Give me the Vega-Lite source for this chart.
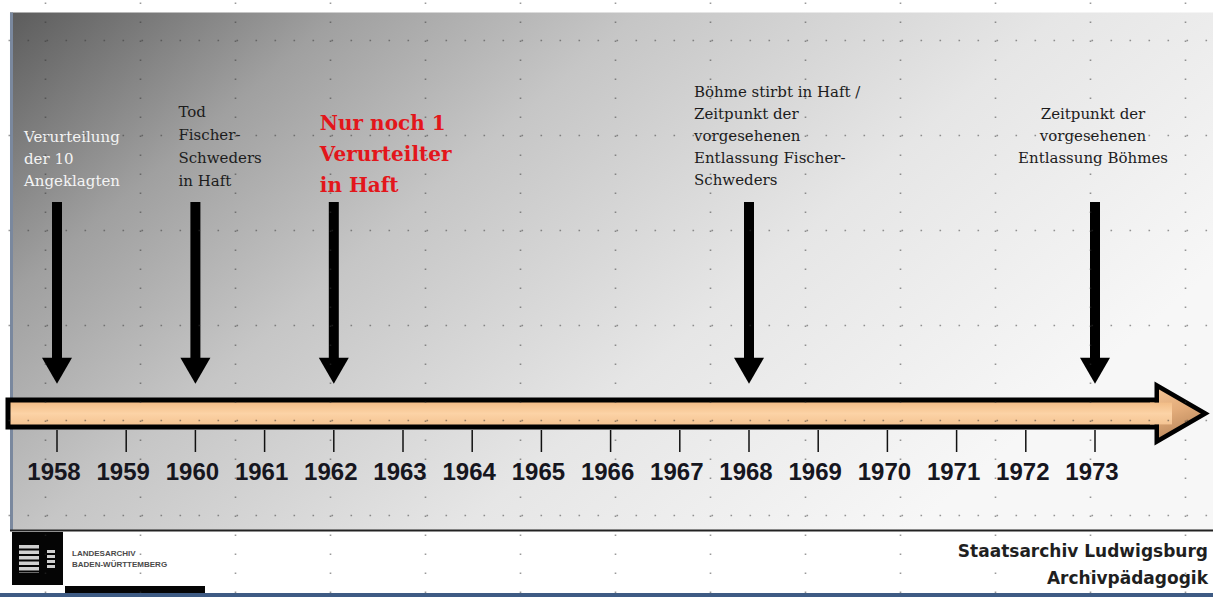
{
"$schema":"https://vega.github.io/schema/vega-lite/v6.json",
"width":1213,"height":597,"autosize":"none","padding":0,"background":"#ffffff",
"config":{"view":{"stroke":null},"axis":{"labels":false,"ticks":false,"domain":false,"grid":true,"gridColor":"#333333","gridOpacity":0.5,"gridWidth":1.6,"gridDash":[1.6,17.4]}},
"datasets":{
"years":[{"year":1958},{"year":1959},{"year":1960},{"year":1961},{"year":1962},{"year":1963},{"year":1964},{"year":1965},{"year":1966},{"year":1967},{"year":1968},{"year":1969},{"year":1970},{"year":1971},{"year":1972},{"year":1973}],
"events":[
{"year":1958,"label":"Verurteilung\nder 10\nAngeklagten"},
{"year":1960,"label":"Tod\nFischer-\nSchweders\nin Haft"},
{"year":1962,"label":"Nur noch 1\nVerurteilter\nin Haft"},
{"year":1968,"label":"Böhme stirbt in Haft /\nZeitpunkt der\nvorgesehenen\nEntlassung Fischer-\nSchweders"},
{"year":1973,"label":"Zeitpunkt der\nvorgesehenen\nEntlassung Böhmes"}
],
"one":[{}]
},
"layer":[
{"data":{"name":"one"},"mark":{"type":"rect","fill":{"gradient":"linear","x1":0,"y1":0,"x2":1,"y2":0.5,"stops":[{"offset":0,"color":"#5c5c5c"},{"offset":0.22,"color":"#a0a0a0"},{"offset":0.42,"color":"#c6c6c6"},{"offset":0.7,"color":"#e6e6e6"},{"offset":1,"color":"#f7f7f7"}]}},
"encoding":{
"x":{"datum":1957.3208,"type":"quantitative","scale":{"domain":[1957.1763,1974.7052],"nice":false,"zero":false},"axis":{"orient":"top","title":null,"zindex":1,"values":[1957.827,1959.199,1960.572,1961.945,1963.318,1964.691,1966.064,1967.436,1968.809,1970.182,1971.555,1972.928,1974.301],"gridDashOffset":-2}},
"x2":{"datum":1974.7052},
"y":{"datum":12.5,"type":"quantitative","scale":{"domain":[0,597],"reverse":true,"nice":false,"zero":false},"axis":{"orient":"left","title":null,"zindex":1,"values":[40,135,230,325,420,515],"gridDashOffset":-8}},
"y2":{"datum":530}}},
{"data":{"name":"one"},"mark":{"type":"rect","fill":"#7a889e"},
"encoding":{"x":{"datum":1957.3208,"type":"quantitative","scale":{"domain":[1957.1763,1974.7052],"nice":false,"zero":false}},"x2":{"datum":1957.3642},
"y":{"datum":12.5,"type":"quantitative","scale":{"domain":[0,597],"reverse":true,"nice":false,"zero":false}},"y2":{"datum":530}}},
{"data":{"name":"one"},"mark":{"type":"rect","fill":"#ffffff"},
"encoding":{"x":{"datum":1957.3208,"type":"quantitative","scale":{"domain":[1957.1763,1974.7052],"nice":false,"zero":false}},"x2":{"datum":1974.7052},
"y":{"datum":531,"type":"quantitative","scale":{"domain":[0,597],"reverse":true,"nice":false,"zero":false}},"y2":{"datum":593}}},
{"data":{"name":"one"},"mark":{"type":"rect","fill":"#222222"},
"encoding":{"x":{"datum":1957.3208,"type":"quantitative","scale":{"domain":[1957.1763,1974.7052],"nice":false,"zero":false}},"x2":{"datum":1974.7052},
"y":{"datum":529.5,"type":"quantitative","scale":{"domain":[0,597],"reverse":true,"nice":false,"zero":false}},"y2":{"datum":531.5}}},
{"data":{"name":"one"},"mark":{"type":"rect","fill":"#3e5b84"},
"encoding":{"x":{"datum":1957.1763,"type":"quantitative","scale":{"domain":[1957.1763,1974.7052],"nice":false,"zero":false}},"x2":{"datum":1974.7052},
"y":{"datum":593,"type":"quantitative","scale":{"domain":[0,597],"reverse":true,"nice":false,"zero":false}},"y2":{"datum":597}}},
{"data":{"name":"one"},"mark":{"type":"rect","fill":"#050505"},
"encoding":{"x":{"datum":1957.3497,"type":"quantitative","scale":{"domain":[1957.1763,1974.7052],"nice":false,"zero":false}},"x2":{"datum":1958.0867},
"y":{"datum":532,"type":"quantitative","scale":{"domain":[0,597],"reverse":true,"nice":false,"zero":false}},"y2":{"datum":585}}},
{"data":{"name":"one"},"mark":{"type":"rule","color":"#d0d0d0","strokeWidth":20,"strokeDash":[3.5,2]},
"encoding":{"x":{"datum":1957.5954,"type":"quantitative","scale":{"domain":[1957.1763,1974.7052],"nice":false,"zero":false}},
"y":{"datum":545,"type":"quantitative","scale":{"domain":[0,597],"reverse":true,"nice":false,"zero":false}},"y2":{"datum":573}}},
{"data":{"name":"one"},"mark":{"type":"rule","color":"#d0d0d0","strokeWidth":8,"strokeDash":[3,2]},
"encoding":{"x":{"datum":1957.9133,"type":"quantitative","scale":{"domain":[1957.1763,1974.7052],"nice":false,"zero":false}},
"y":{"datum":550,"type":"quantitative","scale":{"domain":[0,597],"reverse":true,"nice":false,"zero":false}},"y2":{"datum":568}}},
{"data":{"name":"one"},"mark":{"type":"rect","fill":"#050505"},
"encoding":{"x":{"datum":1958.1156,"type":"quantitative","scale":{"domain":[1957.1763,1974.7052],"nice":false,"zero":false}},"x2":{"datum":1960.1387},
"y":{"datum":586,"type":"quantitative","scale":{"domain":[0,597],"reverse":true,"nice":false,"zero":false}},"y2":{"datum":593}}},
{"data":{"name":"one"},"mark":{"type":"text","font":"Liberation Sans","fontSize":8,"fontWeight":"bold","color":"#4a4a4a","align":"left","baseline":"alphabetic","lineBreak":"\n","lineHeight":11},
"encoding":{"x":{"datum":1958.2168,"type":"quantitative","scale":{"domain":[1957.1763,1974.7052],"nice":false,"zero":false}},
"y":{"datum":556,"type":"quantitative","scale":{"domain":[0,597],"reverse":true,"nice":false,"zero":false}},"text":{"value":"LANDESARCHIV\nBADEN-WÜRTTEMBERG"}}},
{"data":{"name":"one"},"mark":{"type":"text","font":"DejaVu Sans","fontSize":17,"fontWeight":"bold","color":"#1f1f1f","align":"right","baseline":"alphabetic","lineBreak":"\n","lineHeight":27},
"encoding":{"x":{"datum":1974.6329,"type":"quantitative","scale":{"domain":[1957.1763,1974.7052],"nice":false,"zero":false}},
"y":{"datum":557,"type":"quantitative","scale":{"domain":[0,597],"reverse":true,"nice":false,"zero":false}},"text":{"value":"Staatsarchiv Ludwigsburg\nArchivpädagogik"}}},
{"data":{"name":"one"},"mark":{"type":"rect","stroke":"#000000","strokeWidth":5,"fill":{"gradient":"linear","x1":0,"y1":0,"x2":0,"y2":1,"stops":[{"offset":0,"color":"#f0b880"},{"offset":0.5,"color":"#fcd3a6"},{"offset":1,"color":"#f2c08e"}]}},
"encoding":{"x":{"datum":1957.2919,"type":"quantitative","scale":{"domain":[1957.1763,1974.7052],"nice":false,"zero":false}},"x2":{"datum":1974.026},
"y":{"datum":400,"type":"quantitative","scale":{"domain":[0,597],"reverse":true,"nice":false,"zero":false}},"y2":{"datum":427}}},
{"data":{"name":"one"},"mark":{"type":"point","shape":"triangle-right","size":3136,"filled":true,"opacity":1,"stroke":"#000000","strokeWidth":4.5,"strokeJoin":"miter","fill":{"gradient":"linear","x1":0,"y1":0,"x2":0.3,"y2":1,"stops":[{"offset":0,"color":"#f3c596"},{"offset":0.5,"color":"#e3ac7a"},{"offset":1,"color":"#b8865a"}]}},
"encoding":{"x":{"datum":1974.2428,"type":"quantitative","scale":{"domain":[1957.1763,1974.7052],"nice":false,"zero":false}},
"y":{"datum":413.5,"type":"quantitative","scale":{"domain":[0,597],"reverse":true,"nice":false,"zero":false}}}},
{"data":{"name":"one"},"mark":{"type":"rect","fill":{"gradient":"linear","x1":0,"y1":0,"x2":0,"y2":1,"stops":[{"offset":0,"color":"#f2bd87"},{"offset":0.5,"color":"#fcd3a6"},{"offset":1,"color":"#f4c493"}]}},
"encoding":{"x":{"datum":1973.7948,"type":"quantitative","scale":{"domain":[1957.1763,1974.7052],"nice":false,"zero":false}},"x2":{"datum":1974.1127},
"y":{"datum":402.6,"type":"quantitative","scale":{"domain":[0,597],"reverse":true,"nice":false,"zero":false}},"y2":{"datum":424.4}}},
{"data":{"name":"years"},"mark":{"type":"rule","color":"#111111","strokeWidth":1.5},
"encoding":{"x":{"field":"year","type":"quantitative","scale":{"domain":[1957.1763,1974.7052],"nice":false,"zero":false}},
"y":{"datum":430,"type":"quantitative","scale":{"domain":[0,597],"reverse":true,"nice":false,"zero":false}},"y2":{"datum":452}}},
{"data":{"name":"years"},"mark":{"type":"text","font":"Liberation Sans","fontWeight":"bold","fontSize":24,"color":"#16161e","align":"center","baseline":"alphabetic","dx":-3},
"encoding":{"x":{"field":"year","type":"quantitative","scale":{"domain":[1957.1763,1974.7052],"nice":false,"zero":false}},
"y":{"datum":480,"type":"quantitative","scale":{"domain":[0,597],"reverse":true,"nice":false,"zero":false}},"text":{"field":"year","type":"nominal"}}},
{"data":{"name":"events"},"mark":{"type":"rule","color":"#000000","strokeWidth":10,"strokeCap":"butt"},
"encoding":{"x":{"field":"year","type":"quantitative","scale":{"domain":[1957.1763,1974.7052],"nice":false,"zero":false}},
"y":{"datum":202,"type":"quantitative","scale":{"domain":[0,597],"reverse":true,"nice":false,"zero":false}},"y2":{"datum":366}}},
{"data":{"name":"events"},"mark":{"type":"point","shape":"triangle-down","size":900,"filled":true,"opacity":1,"color":"#000000","strokeWidth":0},
"encoding":{"x":{"field":"year","type":"quantitative","scale":{"domain":[1957.1763,1974.7052],"nice":false,"zero":false}},
"y":{"datum":370.7,"type":"quantitative","scale":{"domain":[0,597],"reverse":true,"nice":false,"zero":false}}}},
{"data":{"name":"events"},"transform":[{"filter":"datum.year == 1958"}],"mark":{"type":"text","font":"DejaVu Serif","fontSize":15,"lineHeight":22,"lineBreak":"\n","color":"#f4f4f4","align":"left","baseline":"alphabetic","dx":-33},
"encoding":{"x":{"field":"year","type":"quantitative","scale":{"domain":[1957.1763,1974.7052],"nice":false,"zero":false}},
"y":{"datum":142,"type":"quantitative","scale":{"domain":[0,597],"reverse":true,"nice":false,"zero":false}},"text":{"field":"label","type":"nominal"}}},
{"data":{"name":"events"},"transform":[{"filter":"datum.year == 1960"}],"mark":{"type":"text","font":"DejaVu Serif","fontSize":15,"lineHeight":23,"lineBreak":"\n","color":"#1c1c1c","align":"left","baseline":"alphabetic","dx":-17},
"encoding":{"x":{"field":"year","type":"quantitative","scale":{"domain":[1957.1763,1974.7052],"nice":false,"zero":false}},
"y":{"datum":117,"type":"quantitative","scale":{"domain":[0,597],"reverse":true,"nice":false,"zero":false}},"text":{"field":"label","type":"nominal"}}},
{"data":{"name":"events"},"transform":[{"filter":"datum.year == 1962"}],"mark":{"type":"text","font":"DejaVu Serif","fontSize":20,"fontWeight":"bold","lineHeight":31,"lineBreak":"\n","color":"#e3161b","align":"left","baseline":"alphabetic","dx":-14},
"encoding":{"x":{"field":"year","type":"quantitative","scale":{"domain":[1957.1763,1974.7052],"nice":false,"zero":false}},
"y":{"datum":130,"type":"quantitative","scale":{"domain":[0,597],"reverse":true,"nice":false,"zero":false}},"text":{"field":"label","type":"nominal"}}},
{"data":{"name":"events"},"transform":[{"filter":"datum.year == 1968"}],"mark":{"type":"text","font":"DejaVu Serif","fontSize":15,"lineHeight":22,"lineBreak":"\n","color":"#1c1c1c","align":"left","baseline":"alphabetic","dx":-55},
"encoding":{"x":{"field":"year","type":"quantitative","scale":{"domain":[1957.1763,1974.7052],"nice":false,"zero":false}},
"y":{"datum":97,"type":"quantitative","scale":{"domain":[0,597],"reverse":true,"nice":false,"zero":false}},"text":{"field":"label","type":"nominal"}}},
{"data":{"name":"events"},"transform":[{"filter":"datum.year == 1973"}],"mark":{"type":"text","font":"DejaVu Serif","fontSize":15,"lineHeight":22,"lineBreak":"\n","color":"#1c1c1c","align":"center","baseline":"alphabetic","dx":-2},
"encoding":{"x":{"field":"year","type":"quantitative","scale":{"domain":[1957.1763,1974.7052],"nice":false,"zero":false}},
"y":{"datum":119,"type":"quantitative","scale":{"domain":[0,597],"reverse":true,"nice":false,"zero":false}},"text":{"field":"label","type":"nominal"}}}
]
}
